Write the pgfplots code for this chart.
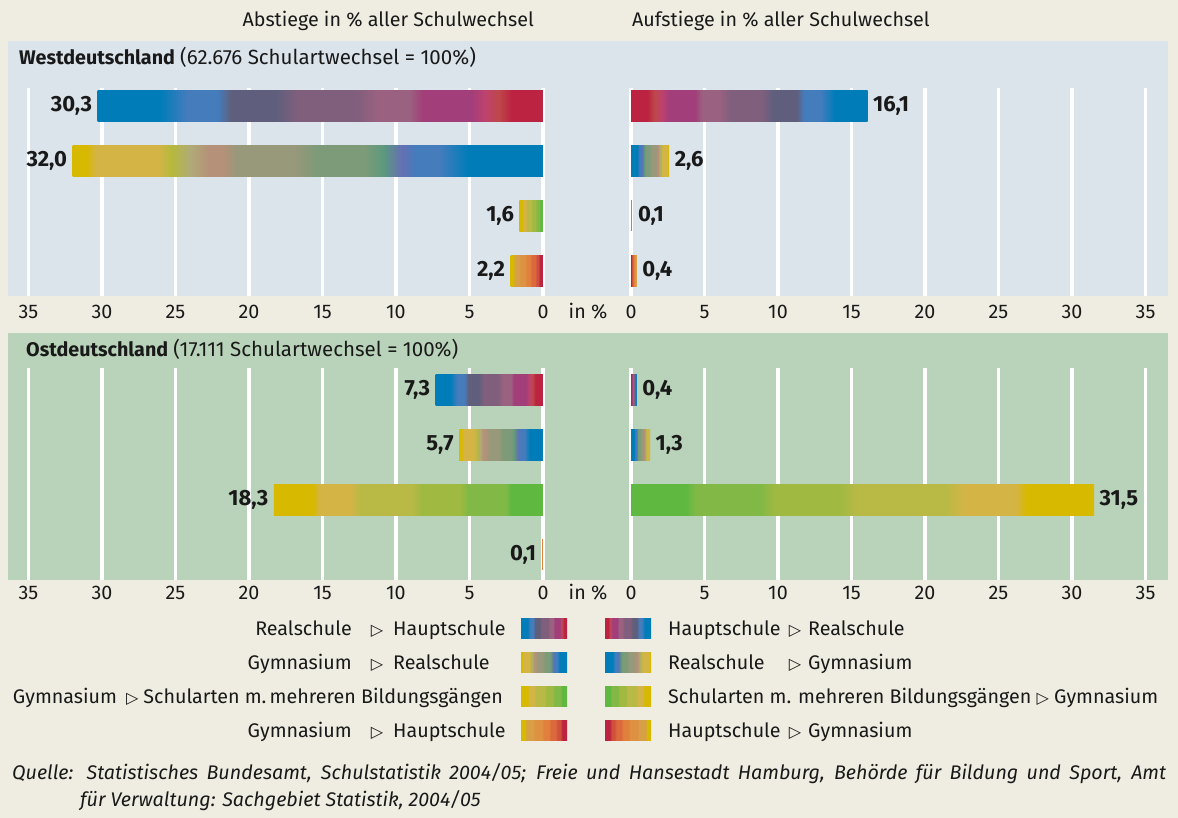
\documentclass[border=0pt]{standalone}
\usepackage{pgfplots}
\pgfplotsset{compat=1.18}
\usepackage{fontspec}
\setmainfont{Fira Sans}
\newfontfamily\symf{DejaVu Sans}

\definecolor{bgc}{RGB}{239,237,226}
\definecolor{topc}{RGB}{219,227,235}
\definecolor{botc}{RGB}{184,211,185}
\definecolor{txt}{RGB}{25,25,25}
\definecolor{blu}{RGB}{0,125,185}
\definecolor{stb}{RGB}{68,124,188}
\definecolor{sla}{RGB}{95,95,125}
\definecolor{mgr}{RGB}{128,95,125}
\definecolor{rmv}{RGB}{155,97,128}
\definecolor{mag}{RGB}{162,62,122}
\definecolor{pnk}{RGB}{190,65,110}
\definecolor{brk}{RGB}{190,72,75}
\definecolor{red}{RGB}{188,35,65}
\definecolor{yel}{RGB}{215,185,0}
\definecolor{gld}{RGB}{213,180,70}
\definecolor{lim}{RGB}{182,185,60}
\definecolor{tan}{RGB}{176,170,120}
\definecolor{pnt}{RGB}{180,145,120}
\definecolor{gry}{RGB}{152,152,122}
\definecolor{ggr}{RGB}{125,155,120}
\definecolor{tgr}{RGB}{92,153,125}
\definecolor{pur}{RGB}{100,112,180}
\definecolor{olv}{RGB}{185,185,70}
\definecolor{ygr}{RGB}{160,185,65}
\definecolor{mgn}{RGB}{130,185,70}
\definecolor{grn}{RGB}{95,185,65}
\definecolor{or1}{RGB}{215,160,70}
\definecolor{or2}{RGB}{222,145,65}
\definecolor{or3}{RGB}{225,128,60}
\definecolor{or4}{RGB}{218,105,60}
\definecolor{or5}{RGB}{208,80,60}

\pgfdeclarehorizontalshading{RH}{100bp}{color(0bp)=(blu); color(25bp)=(blu); color(32bp)=(blu); color(35bp)=(stb); color(38.5bp)=(stb); color(40bp)=(sla); color(45bp)=(sla); color(47.5bp)=(mgr); color(54bp)=(mgr); color(56.5bp)=(rmv); color(60bp)=(rmv); color(61.5bp)=(mag); color(67bp)=(mag); color(68.5bp)=(pnk); color(70bp)=(brk); color(71.5bp)=(red); color(75bp)=(red); color(100bp)=(red)}
\pgfdeclarehorizontalshading{HR}{100bp}{color(0bp)=(red); color(25bp)=(red); color(28.5bp)=(red); color(30bp)=(brk); color(31.5bp)=(pnk); color(33bp)=(mag); color(38.5bp)=(mag); color(40bp)=(rmv); color(43.5bp)=(rmv); color(46bp)=(mgr); color(52.5bp)=(mgr); color(55bp)=(sla); color(60bp)=(sla); color(61.5bp)=(stb); color(65bp)=(stb); color(68bp)=(blu); color(75bp)=(blu); color(100bp)=(blu)}
\pgfdeclarehorizontalshading{GR}{100bp}{color(0bp)=(yel); color(25bp)=(yel); color(26.5bp)=(yel); color(27.5bp)=(gld); color(34bp)=(gld); color(35.5bp)=(lim); color(37.5bp)=(tan); color(39.5bp)=(pnt); color(41bp)=(pnt); color(42.5bp)=(gry); color(48.5bp)=(gry); color(51bp)=(ggr); color(56bp)=(ggr); color(58bp)=(tgr); color(60bp)=(pur); color(61.5bp)=(stb); color(64bp)=(stb); color(67bp)=(blu); color(75bp)=(blu); color(100bp)=(blu)}
\pgfdeclarehorizontalshading{RG}{100bp}{color(0bp)=(blu); color(25bp)=(blu); color(33bp)=(blu); color(36bp)=(stb); color(38.5bp)=(stb); color(40bp)=(pur); color(42bp)=(tgr); color(44bp)=(ggr); color(49bp)=(ggr); color(51.5bp)=(gry); color(57.5bp)=(gry); color(59bp)=(pnt); color(60.5bp)=(pnt); color(62.5bp)=(tan); color(64.5bp)=(lim); color(66bp)=(gld); color(72.5bp)=(gld); color(73.5bp)=(yel); color(75bp)=(yel); color(100bp)=(yel)}
\pgfdeclarehorizontalshading{GS}{100bp}{color(0bp)=(yel); color(25bp)=(yel); color(32.3bp)=(yel); color(33.5bp)=(gld); color(39bp)=(gld); color(41bp)=(olv); color(50.5bp)=(olv); color(52.5bp)=(ygr); color(59.5bp)=(ygr); color(61bp)=(mgn); color(68bp)=(mgn); color(69bp)=(grn); color(75bp)=(grn); color(100bp)=(grn)}
\pgfdeclarehorizontalshading{SG}{100bp}{color(0bp)=(grn); color(25bp)=(grn); color(31bp)=(grn); color(32bp)=(mgn); color(39bp)=(mgn); color(40.5bp)=(ygr); color(47.5bp)=(ygr); color(49.5bp)=(olv); color(59bp)=(olv); color(61bp)=(gld); color(66.5bp)=(gld); color(67.7bp)=(yel); color(75bp)=(yel); color(100bp)=(yel)}
\pgfdeclarehorizontalshading{GH}{100bp}{color(0bp)=(yel); color(25bp)=(yel); color(29bp)=(yel); color(31bp)=(or1); color(37.5bp)=(or1); color(40bp)=(or2); color(47.5bp)=(or2); color(50bp)=(or3); color(55bp)=(or3); color(57.5bp)=(or4); color(62.5bp)=(or4); color(65bp)=(or5); color(67.5bp)=(or5); color(70bp)=(red); color(75bp)=(red); color(100bp)=(red)}
\pgfdeclarehorizontalshading{HG}{100bp}{color(0bp)=(red); color(25bp)=(red); color(30bp)=(red); color(32.5bp)=(or5); color(35bp)=(or5); color(37.5bp)=(or4); color(42.5bp)=(or4); color(45bp)=(or3); color(50bp)=(or3); color(52.5bp)=(or2); color(60bp)=(or2); color(62.5bp)=(or1); color(69bp)=(or1); color(71bp)=(yel); color(75bp)=(yel); color(100bp)=(yel)}

\newcommand{\fs}{\fontsize{19.7}{23}\selectfont}
\newcommand{\fsb}{\fontsize{22}{25}\selectfont\bfseries}
\newcommand{\tri}{{\symf\fontsize{16}{18}\selectfont ▷}}

\pgfplotsset{
  base/.style={
    scale only axis, anchor=center, xmin=0,
    y dir=reverse, ytick=\empty,
    xtick={0,5,...,35},
    axis line style={draw=none}, tick style={draw=none}, major tick length=0pt,
    xmajorgrids, major grid style={draw=white, line width=3.5pt},
    xticklabel style={anchor=base, font=\fs, text=txt},
    /pgf/number format/assume math mode=true,
    clip=false,
    point meta=x,
    nodes near coords={\pgfmathprintnumber[fixed,fixed zerofill,precision=1,use comma,assume math mode=true]{\pgfplotspointmeta}},
    every node near coord/.append style={font=\fsb, text=txt},
  },
  lefta/.style={base, x dir=reverse, width=535pt, xmax=36.39},
  righta/.style={base, width=537pt, xmax=36.53},
  toppan/.style={height=208pt, ymin=0.673, ymax=4.4545, xticklabel style={yshift=-23pt}},
  botpan/.style={height=212pt, ymin=0.6, ymax=4.4545, xticklabel style={yshift=-20pt}},
  bbar/.style={xbar, bar width=31pt, bar shift=0pt, draw=none},
  lpos/.style={every node near coord/.append style={anchor=east, xshift=-2pt}},
  rpos/.style={every node near coord/.append style={anchor=west, xshift=2pt}},
  lbar/.style={bbar, shading=#1, lpos},
  rbar/.style={bbar, shading=#1, rpos},
  lbarp/.style={bbar, fill=#1, lpos},
  rbarp/.style={bbar, fill=#1, rpos},
}

\begin{document}
\begin{tikzpicture}[x=1pt,y=1pt]
\useasboundingbox (0,0) rectangle (1178,818);
\fill[bgc] (0,0) rectangle (1178,818);
\fill[topc] (8,777) rectangle (1168,522);
\fill[botc] (8,485) rectangle (1168,238);

% titles
\node[anchor=base east, font=\fs, text=txt, inner sep=0] at (534,791.5) {Abstiege in \% aller Schulwechsel};
\node[anchor=base west, font=\fs, text=txt, inner sep=0] at (632,791.5) {Aufstiege in \% aller Schulwechsel};
\node[anchor=base west, font=\fs, text=txt, inner sep=0] at (19,753.5) {\textbf{Westdeutschland} {\fontsize{20.5}{23}\selectfont(62.676 Schulartwechsel = 100\%)}};
\node[anchor=base west, font=\fs, text=txt, inner sep=0] at (26,461.5) {\textbf{Ostdeutschland} {\fontsize{20.5}{23}\selectfont(17.111 Schulartwechsel = 100\%)}};
\node[anchor=base, font=\fs, text=txt, inner sep=0] at (588,499) {in \%};
\node[anchor=base, font=\fs, text=txt, inner sep=0] at (588,218) {in \%};

% West
\begin{axis}[lefta, toppan, at={(275.5pt,626pt)}]
\addplot[lbar=RH] coordinates {(30.3,1)};
\addplot[lbar=GR] coordinates {(32.0,2)};
\addplot[lbar=GS] coordinates {(1.6,3)};
\addplot[lbar=GH] coordinates {(2.2,4)};
\end{axis}
\begin{axis}[righta, toppan, at={(899.5pt,626pt)}]
\addplot[rbar=HR] coordinates {(16.1,1)};
\addplot[rbar=RG] coordinates {(2.6,2)};
\addplot[rbarp=grn] coordinates {(0.1,3)};
\addplot[rbar=HG] coordinates {(0.4,4)};
\end{axis}
% Ost
\begin{axis}[lefta, botpan, at={(275.5pt,344pt)}]
\addplot[lbar=RH] coordinates {(7.3,1)};
\addplot[lbar=GR] coordinates {(5.7,2)};
\addplot[lbar=GS] coordinates {(18.3,3)};
\addplot[lbarp=or3] coordinates {(0.1,4)};
\end{axis}
\begin{axis}[righta, botpan, at={(899.5pt,344pt)}]
\addplot[rbar=HR] coordinates {(0.4,1)};
\addplot[rbar=RG] coordinates {(1.3,2)};
\addplot[rbar=SG] coordinates {(31.5,3)};
\end{axis}

% legend
\begin{scope}[every node/.style={font=\fs, text=txt, inner sep=0}]
\shade[shading=RH] (521,179) rectangle (567,199);
\shade[shading=GR] (521,145) rectangle (567,165);
\shade[shading=GS] (521,111) rectangle (567,131);
\shade[shading=GH] (521,77) rectangle (567,97);
\shade[shading=HR] (605,179) rectangle (651,199);
\shade[shading=RG] (605,145) rectangle (651,165);
\shade[shading=SG] (605,111) rectangle (651,131);
\shade[shading=HG] (605,77) rectangle (651,97);

\node[anchor=base east] at (352,182.5) {Realschule};
\node[anchor=base] at (377,182.5) {\tri};
\node[anchor=base west] at (393,182.5) {Hauptschule};
\node[anchor=base east] at (352,148.5) {Gymnasium};
\node[anchor=base] at (377,148.5) {\tri};
\node[anchor=base west] at (393,148.5) {Realschule};
\node[anchor=base east] at (503,114.5) {Gymnasium\hspace{9pt}\tri\hspace{5pt}Schularten m.\,mehreren Bildungsgängen};
\node[anchor=base east] at (352,80.5) {Gymnasium};
\node[anchor=base] at (377,80.5) {\tri};
\node[anchor=base west] at (393,80.5) {Hauptschule};

\node[anchor=base west] at (668,182.5) {Hauptschule};
\node[anchor=base] at (795,182.5) {\tri};
\node[anchor=base west] at (808,182.5) {Realschule};
\node[anchor=base west] at (668,148.5) {Realschule};
\node[anchor=base] at (795,148.5) {\tri};
\node[anchor=base west] at (808,148.5) {Gymnasium};
\node[anchor=base west] at (668,114.5) {Schularten m. mehreren Bildungsgängen \tri\ Gymnasium};
\node[anchor=base west] at (668,80.5) {Hauptschule};
\node[anchor=base] at (795,80.5) {\tri};
\node[anchor=base west] at (808,80.5) {Gymnasium};

\node[anchor=base west, align=left] at (12,38.5) {\parbox[t]{1154pt}{\fontsize{19.7}{27}\selectfont\itshape\hangindent=68pt\hangafter=1\noindent Quelle: Statistisches Bundesamt, Schulstatistik 2004/05; Freie und Hansestadt Hamburg, Behörde für Bildung und Sport, Amt\linebreak für Verwaltung: Sachgebiet Statistik, 2004/05}};
\end{scope}
\end{tikzpicture}
\end{document}
